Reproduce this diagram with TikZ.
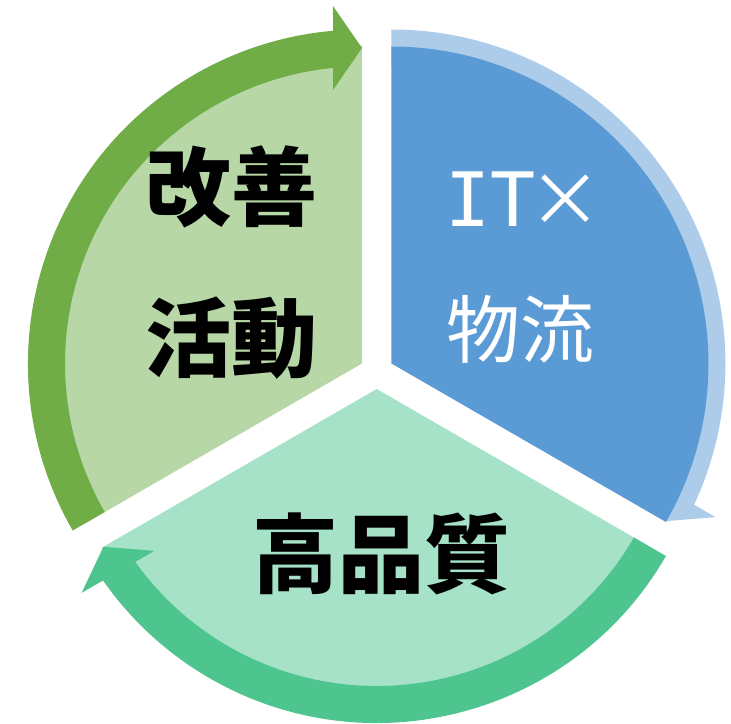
\documentclass[tikz,border=0pt]{standalone}
\usepackage{fontspec}
\newfontfamily\cjk{Noto Sans CJK JP}
\newfontfamily\monoIT{DejaVu Sans Mono}
\usetikzlibrary{calc}
\definecolor{lgreen}{HTML}{B8D7A6}
\definecolor{dgreen}{HTML}{70AD47}
\definecolor{pieblue}{HTML}{5B9BD5}
\definecolor{lblue}{HTML}{ADCCEA}
\definecolor{lmint}{HTML}{A6E2C8}
\definecolor{dmint}{HTML}{4EC58F}
% apex, tail angle, tip angle, colour
\newcommand\cyclearrow[4]{%
  \fill[#4] ($(#1)+(#2:334)$) arc[start angle=#2, end angle=#3+4.98, radius=334]
    -- ($(#1)+(#3+4.64:358.67)$) -- ($(#1)+(#3:315.5)$) -- ($(#1)+(#3+6.05:275.03)$)
    -- ($(#1)+(#3+5.60:297)$) arc[start angle=#3+5.60, end angle=#2, radius=297] -- cycle;}
% apex, start angle, end angle, radius, colour
\newcommand\piesector[5]{%
  \fill[#5] (#1) -- ($(#1)+(#2:#4)$) arc[start angle=#2, end angle=#3, radius=#4] -- cycle;}
\tikzset{
  boldlabel/.style={font=\cjk\bfseries\fontsize{86}{151}\selectfont, align=center, text=black},
  lightlabel/.style={font=\cjk\fontsize{74}{131}\selectfont, align=center, text=white}
}
\begin{document}
\begin{tikzpicture}[x=1pt,y=1pt]
\useasboundingbox (-376.7,-351) rectangle (354.3,372);
\coordinate (G) at (-14.7,8.5);
\coordinate (B) at (14.7,8.5);
\coordinate (M) at (0,-17);
% green sector + arrow
\piesector{G}{90}{210}{318}{lgreen}
\cyclearrow{G}{210}{90}{dgreen}
% mint sector + arrow
\piesector{M}{210}{330}{318}{lmint}
\cyclearrow{M}{330}{210}{dmint}
% blue arrow under blue sector
\cyclearrow{B}{90}{-30}{lblue}
\piesector{B}{-30}{90}{317}{pieblue}
% labels
\node[boldlabel] (kaizen) at (-145.2,109) {改善\\活動};
\node[lightlabel] (itbutsuryu) at (143.3,104.5) {\kern8pt{\monoIT\fontsize{75}{131}\selectfont IT}\kern-8pt×\\物流};
\node[boldlabel] (kohinshitsu) at (5,-181.5) {高品質};
\end{tikzpicture}
\end{document}
